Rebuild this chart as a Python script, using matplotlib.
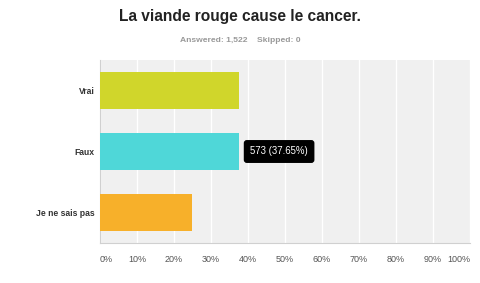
import matplotlib.pyplot as plt

categories = ["Vrai", "Faux", "Je ne sais pas"]
percents = [37.6, 37.65, 24.75]
colors = ["#d0d62b", "#4fd7d8", "#f7b02a"]
ticks = list(range(0, 101, 10))
tick_labels = [f"{t}%" for t in ticks]
answered = 1522
skipped = 0
tooltip_count = 573

plt.rcParams["font.family"] = ["Liberation Sans", "DejaVu Sans"]

fig = plt.figure(figsize=(4.8, 2.83), dpi=100)
fig.patch.set_facecolor("white")
ax = fig.add_axes([100 / 480, 40 / 283, 370 / 480, 183 / 283])
ax.set_facecolor("#f0f0f0")

ypos = list(range(len(categories)))
ax.barh(ypos, percents, height=0.62, color=colors, zorder=3)

ax.set_xlim(0, 100)
ax.set_ylim(2.5, -0.5)
ax.set_xticks(ticks)
ax.set_xticklabels(tick_labels)
ax.set_yticks(ypos)
ax.set_yticklabels(categories)
ax.grid(axis="x", color="white", linewidth=1, zorder=1)
ax.tick_params(axis="x", length=0, pad=9, labelsize=6.5, labelcolor="#555555")
ax.tick_params(axis="y", length=0, pad=4, labelsize=6.2, labelcolor="#333333")
for lbl in ax.get_yticklabels():
    lbl.set_fontweight("bold")
xl = ax.get_xticklabels()
xl[0].set_ha("left")
xl[-1].set_ha("right")

for s in ["top", "right"]:
    ax.spines[s].set_visible(False)
ax.spines["left"].set_color("#d0d0d0")
ax.spines["bottom"].set_color("#d0d0d0")

ax.text(40.6, 1, f"{tooltip_count} ({percents[1]:.2f}%)", ha="left", va="center",
        color="white", fontsize=6.9, zorder=5,
        bbox=dict(boxstyle="round,pad=0.6,rounding_size=0.25", fc="black", ec="black"))

fig.text(0.5, 1 - 16 / 283, "La viande rouge cause le cancer.", ha="center", va="center",
         fontsize=11.2, fontweight="bold", color="#222222")
fig.text(0.5, 1 - 40 / 283, f"Answered: {answered:,}    Skipped: {skipped}", ha="center",
         va="center", fontsize=6.1, fontweight="bold", color="#999999")

fig.savefig("out.png", dpi=100)
